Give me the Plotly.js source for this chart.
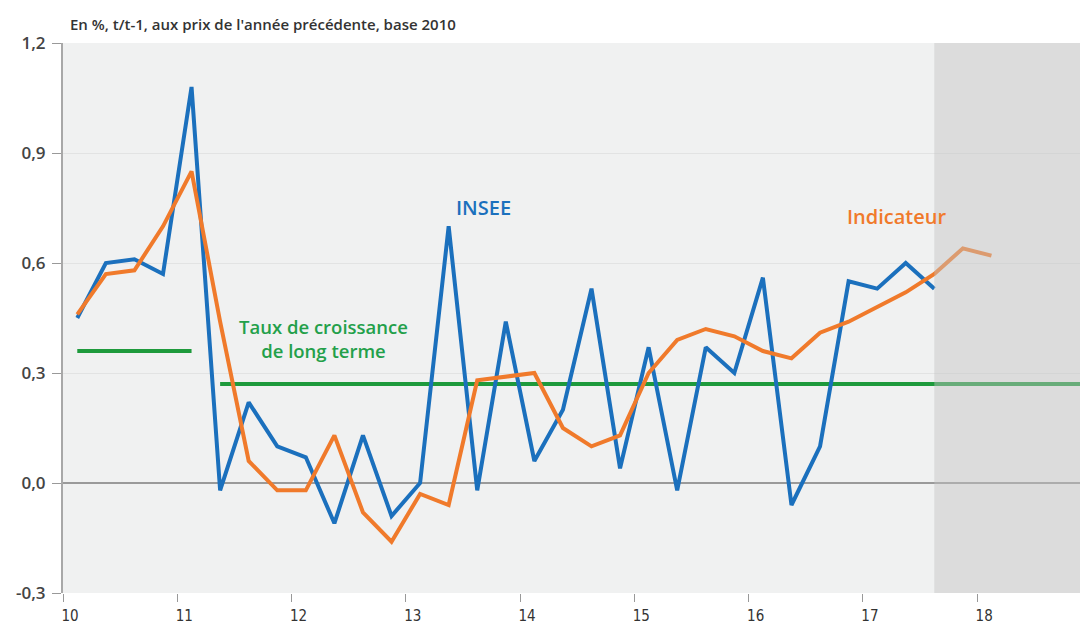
<!DOCTYPE html>
<html>
<head>
<meta charset="utf-8">
<script src="https://cdn.plot.ly/plotly-3.0.1.min.js"></script>
<style>
html,body{margin:0;padding:0;background:#fff;}
#chart{width:1080px;height:625px;}
</style>
</head>
<body>
<div id="chart"></div>
<script>
// Quarterly positions (mid-quarter), 2010Q1 .. 2018Q1
const quarters = [10.125,10.375,10.625,10.875,11.125,11.375,11.625,11.875,12.125,12.375,12.625,12.875,
  13.125,13.375,13.625,13.875,14.125,14.375,14.625,14.875,15.125,15.375,15.625,15.875,
  16.125,16.375,16.625,16.875,17.125,17.375,17.625,17.875,18.125];

// INSEE quarterly GDP growth (%), 2010Q1 .. 2017Q3
const insee = [0.45,0.60,0.61,0.57,1.08,-0.02,0.22,0.10,0.07,-0.11,0.13,-0.09,
  0.00,0.70,-0.02,0.44,0.06,0.20,0.53,0.04,0.37,-0.02,0.37,0.30,
  0.56,-0.06,0.10,0.55,0.53,0.60,0.53];

// Indicator (%), 2010Q1 .. 2018Q1
const indicateur = [0.46,0.57,0.58,0.70,0.85,0.44,0.06,-0.02,-0.02,0.13,-0.08,-0.16,
  -0.03,-0.06,0.28,0.29,0.30,0.15,0.10,0.13,0.30,0.39,0.42,0.40,
  0.36,0.34,0.41,0.44,0.48,0.52,0.57,0.64,0.62];

// Long-term growth rate segments
const longTermX = [10.125, 11.125, null, 11.375, 18.9];
const longTermY = [0.36, 0.36, null, 0.27, 0.27];

const xTickVals = [10,11,12,13,14,15,16,17,18];
const xTickText = ['10','11','12','13','14','15','16','17','18'];
const yTickVals = [-0.3,0,0.3,0.6,0.9,1.2];
const yTickText = ['-0,3','0,0','0,3','0,6','0,9','1,2'];

const forecastStart = 17.625;

const traces = [
  {x: longTermX, y: longTermY, type:'scatter', mode:'lines', connectgaps:false,
   line:{color:'#1e9a3c', width:4}, hoverinfo:'skip'},
  {x: quarters.slice(0, insee.length), y: insee, type:'scatter', mode:'lines',
   line:{color:'#1b70bd', width:4}, name:'INSEE'},
  {x: quarters, y: indicateur, type:'scatter', mode:'lines',
   line:{color:'#f07a2b', width:4}, name:'Indicateur'}
];

const fam = 'Open Sans, sans-serif';

const layout = {
  width:1080, height:625,
  margin:{l:63, r:0, t:43, b:32, pad:0},
  paper_bgcolor:'#ffffff',
  plot_bgcolor:'#f0f1f1',
  showlegend:false,
  separators:', ',
  xaxis:{
    range:[10, 18.9], tickvals:xTickVals, ticktext:xTickText,
    showgrid:false, zeroline:false, showline:false,
    ticks:'outside', ticklen:8, tickwidth:1, tickcolor:'#999999',
    ticklabelshift:7, ticklabelstandoff:1,
    tickfont:{family:'DejaVu Sans Condensed, Liberation Sans Narrow, sans-serif', size:15, color:'#333', weight:500}
  },
  yaxis:{
    range:[-0.3, 1.2], tickvals:yTickVals, ticktext:yTickText,
    showgrid:true, gridcolor:'#e2e3e3', gridwidth:1,
    zeroline:true, zerolinecolor:'#9a9a9a', zerolinewidth:2,
    showline:true, linecolor:'#a8a8a8', linewidth:2,
    ticks:'outside', ticklen:9, tickwidth:1, tickcolor:'#999999',
    ticklabelstandoff:3,
    tickfont:{family:fam, size:17, color:'#444', weight:600}
  },
  shapes:[
    {type:'rect', xref:'x', yref:'paper', x0:forecastStart, x1:18.9, y0:0, y1:1,
     fillcolor:'rgba(196,196,196,0.45)', line:{width:0}, layer:'above'}
  ],
  annotations:[
    {xref:'paper', yref:'paper', x:0.005, y:1.035, xanchor:'left', yanchor:'middle',
     text:"En %, t/t-1, aux prix de l'année précédente, base 2010", showarrow:false,
     font:{family:fam, size:15, color:'#333', weight:600}},
    {xref:'x', yref:'y', x:13.676, y:0.751, text:'INSEE', showarrow:false,
     font:{family:fam, weight:600, size:20, color:'#1b70bd'}},
    {xref:'x', yref:'y', x:17.30, y:0.726, text:'Indicateur', showarrow:false,
     font:{family:fam, weight:600, size:20, color:'#f07a2b'}},
    {xref:'x', yref:'y', x:12.276, y:0.393, text:'Taux de croissance<br>de long terme', showarrow:false,
     align:'center', font:{family:fam, weight:600, size:18.5, color:'#23a04a'}}
  ]
};

Plotly.newPlot('chart', traces, layout, {staticPlot:true, displayModeBar:false});
</script>
</body>
</html>
